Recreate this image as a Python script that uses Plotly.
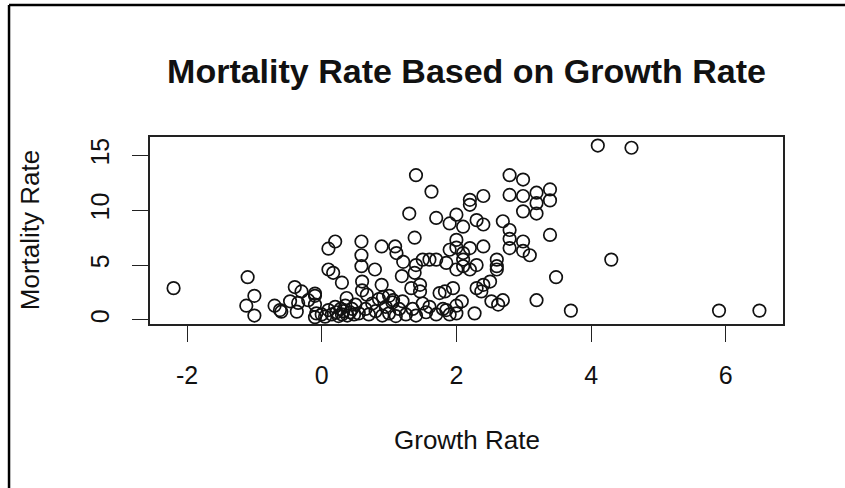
import plotly.graph_objects as go

# Growth rate (x) and mortality rate (y)
growth = [
    -2.2,
    -1.1, -1.12, -1.0, -1.0,
    -0.7, -0.62, -0.6,
    -0.4, -0.3, -0.47, -0.35, -0.37, -0.2,
    -0.1, -0.1, -0.1, -0.08, -0.1,
    0.0, 0.05, 0.1, 0.2, 0.1, 0.17, 0.3,
    0.1, 0.15, 0.2, 0.22, 0.25, 0.28, 0.3, 0.32, 0.35, 0.37, 0.38, 0.42, 0.45, 0.48, 0.5, 0.55,
    0.59, 0.59, 0.59, 0.6, 0.67, 0.6,
    0.65, 0.7, 0.75, 0.79, 0.85, 0.89, 0.89, 0.91, 0.8, 0.9, 0.95,
    1.0, 1.0, 1.05, 1.06, 1.09, 1.11, 1.1, 1.15, 1.2, 1.19, 1.21, 1.25,
    1.3, 1.33, 1.38, 1.38, 1.4, 1.4, 1.35, 1.4, 1.46, 1.46, 1.5, 1.5, 1.55,
    1.6, 1.63, 1.6, 1.7, 1.7, 1.7, 1.75, 1.8, 1.83, 1.85, 1.85, 1.9, 1.9, 1.9, 1.95,
    2.0, 2.0, 2.0, 2.0, 2.0, 2.0, 2.08, 2.1, 2.1, 2.1, 2.1, 2.2, 2.2, 2.2, 2.2, 2.27,
    2.3, 2.3, 2.3, 2.37, 2.4, 2.4, 2.4, 2.4, 2.5, 2.52, 2.6, 2.6, 2.6, 2.62, 2.69, 2.69,
    2.79, 2.79, 2.79, 2.79, 2.79, 2.99, 2.99, 2.99, 2.99, 2.99, 3.09,
    3.19, 3.19, 3.19, 3.19, 3.39, 3.39, 3.39, 3.48, 3.7,
    4.1, 4.6, 4.3, 5.9, 6.5,
]
mortality = [
    2.9,
    3.9, 1.3, 2.2, 0.4,
    1.3, 0.9, 0.75,
    3.0, 2.6, 1.7, 1.55, 0.76, 1.8,
    2.4, 2.2, 1.4, 0.6, 0.25,
    0.5, 0.3, 6.5, 7.15, 4.6, 4.3, 3.4,
    0.9, 0.5, 1.2, 0.7, 0.35, 1.0, 0.5, 0.8, 1.3, 2.0, 0.4, 0.7, 1.0, 0.5, 1.4, 0.6,
    7.15, 5.9, 4.9, 2.7, 2.3, 3.5,
    1.0, 0.5, 1.5, 4.6, 1.9, 3.2, 6.7, 2.1, 0.8, 0.4, 1.2,
    2.2, 0.6, 1.6, 1.8, 6.7, 6.1, 0.35, 1.0, 1.7, 4.0, 5.3, 0.5,
    9.7, 2.9, 4.3, 7.5, 13.2, 5.0, 1.0, 0.4, 3.2, 2.6, 5.5, 1.5, 0.7,
    5.5, 11.7, 1.2, 5.5, 9.3, 0.5, 2.45, 1.0, 2.6, 0.9, 5.2, 8.8, 6.4, 0.5, 2.9,
    9.6, 7.3, 6.6, 4.6, 0.6, 1.3, 1.7, 8.5, 6.1, 5.5, 4.9, 10.95, 10.5, 6.55, 4.6, 0.6,
    9.1, 5.0, 2.9, 2.6, 11.3, 8.7, 6.7, 3.2, 3.5, 1.7, 5.5, 4.9, 4.6, 1.4, 9.0, 1.8,
    13.2, 11.4, 8.2, 7.4, 6.55, 12.8, 11.3, 9.9, 7.15, 6.3, 5.9,
    11.6, 10.65, 9.7, 1.8, 11.9, 10.9, 7.75, 3.9, 0.85,
    15.9, 15.7, 5.5, 0.85, 0.85,
]

x_ticks = [-2, 0, 2, 4, 6]
x_tick_labels = ["-2", "0", "2", "4", "6"]
y_ticks = [0, 5, 10, 15]
y_tick_labels = ["0", "5", "10", "15"]

FONT = "Liberation Sans, Arial, sans-serif"

fig = go.Figure(
    go.Scatter(
        x=growth,
        y=mortality,
        mode="markers",
        marker=dict(symbol="circle-open", size=12.5, color="#111111",
                    line=dict(width=1.7, color="#111111")),
        hoverinfo="x+y",
    )
)

axis_common = dict(
    showgrid=False,
    zeroline=False,
    showline=True,
    mirror=True,
    linecolor="#222222",
    linewidth=1.5,
    ticks="outside",
    ticklen=16,
    tickwidth=1.3,
    tickcolor="#222222",
    tickfont=dict(family=FONT, size=25, color="#111111"),
)

fig.update_layout(
    width=845,
    height=488,
    margin=dict(l=150, r=62, t=137, b=164),
    paper_bgcolor="white",
    plot_bgcolor="white",
    showlegend=False,
    title=dict(
        text="<b>Mortality Rate Based on Growth Rate</b>",
        font=dict(family=FONT, size=34, color="#111111"),
        x=0.5, xref="paper", xanchor="center",
        y=1 - 71 / 488, yref="container", yanchor="middle",
    ),
    xaxis=dict(axis_common, range=[-2.55, 6.85], tickvals=x_ticks,
               ticktext=x_tick_labels, ticklabelstandoff=12),
    yaxis=dict(axis_common, range=[-0.37, 16.68], tickvals=y_ticks,
               ticktext=y_tick_labels, tickangle=-90, ticklabelstandoff=13),
    annotations=[
        dict(text="Growth Rate", xref="paper", yref="paper", x=0.5, y=-0.62,
             xanchor="center", yanchor="middle", showarrow=False,
             font=dict(family=FONT, size=26, color="#111111")),
        dict(text="Mortality Rate", xref="paper", yref="paper", x=-0.19, y=0.5,
             xanchor="center", yanchor="middle", textangle=-90, showarrow=False,
             font=dict(family=FONT, size=26, color="#111111")),
    ],
    shapes=[
        dict(type="line", xref="paper", yref="paper", x0=-0.2227, x1=-0.2227,
             y0=1.706, y1=-0.9, line=dict(color="black", width=2.5)),
        dict(type="line", xref="paper", yref="paper", x0=-0.2227, x1=1.1,
             y0=1.706, y1=1.706, line=dict(color="black", width=2.5)),
    ],
)

fig.write_html(
    "out.html",
    config={"displayModeBar": False},
    post_script="document.body.style.margin='0px';document.body.style.overflow='hidden';",
)
